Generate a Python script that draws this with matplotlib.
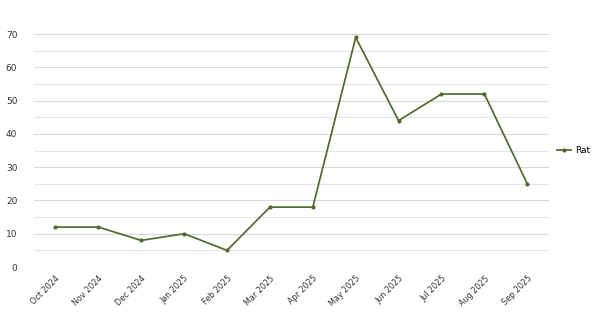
import matplotlib
matplotlib.use("Agg")
import matplotlib.pyplot as plt
from matplotlib.ticker import MultipleLocator

months = ["Oct 2024", "Nov 2024", "Dec 2024", "Jan 2025", "Feb 2025", "Mar 2025",
          "Apr 2025", "May 2025", "Jun 2025", "Jul 2025", "Aug 2025", "Sep 2025"]
rat = [12, 12, 8, 10, 5, 18, 18, 69, 44, 52, 52, 25]

lineColor = "#4f6b2f"

fig = plt.figure(figsize=(6.02, 3.19), dpi=100)
ax = fig.add_axes([0.0565, 0.163, 0.855, 0.730])

xs = list(range(len(months)))
ax.plot(xs, rat, color=lineColor, linewidth=1.25, marker="o", markersize=2.0, label="Rat")

ax.set_xlim(-0.5, len(months) - 0.5)
ax.set_ylim(0, 70)
ax.yaxis.set_major_locator(MultipleLocator(10))
ax.yaxis.set_minor_locator(MultipleLocator(5))
ax.grid(axis="y", which="major", color="#d9d9d9", linewidth=0.8)
ax.grid(axis="y", which="minor", color="#e6e6e6", linewidth=0.8)
ax.set_axisbelow(True)

ax.set_xticks(xs)
ax.set_xticklabels(months, rotation=45, ha="right", rotation_mode="anchor", fontsize=5.8, color="#333333")
ax.tick_params(axis="y", labelsize=6.5, labelcolor="#333333", length=0, pad=12)
ax.tick_params(axis="x", length=0, pad=5)
ax.tick_params(which="minor", length=0)

for spine in ax.spines.values():
    spine.set_visible(False)

ax.legend(loc="center left", bbox_to_anchor=(1.0, 0.5), frameon=False, fontsize=6.5,
          handlelength=1.6, handletextpad=0.4)

fig.savefig("out.png", dpi=100)
